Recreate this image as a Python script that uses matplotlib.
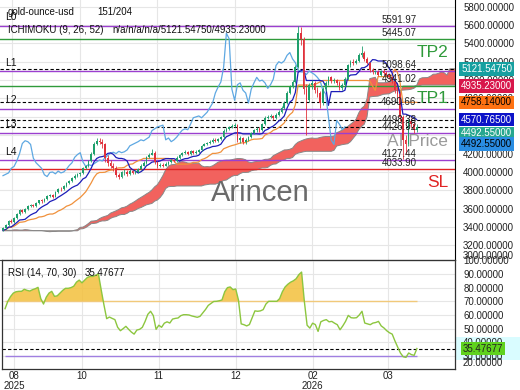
import numpy as np
import pandas as pd
import matplotlib
matplotlib.use('Agg')
import matplotlib.pyplot as plt
from matplotlib.patches import Rectangle

plt.rcParams['font.family'] = ['Liberation Sans', 'DejaVu Sans']
plt.rcParams['font.size'] = 7

# ---------------- data ----------------
title_symbol = "gold-ounce-usd"
title_count = "151/204"
ichimoku_title = "ICHIMOKU (9, 26, 52)"
ichimoku_values = "n/a/n/a/n/a/5121.54750/4935.23000"
rsi_title = "RSI (14, 70, 30)"
rsi_last_text = "35.47677"
rsi_last = 35.47677

pre_close = [3380, 3300, 3320, 3350, 3380, 3400, 3420, 3440, 3410, 3380,
             3350, 3340, 3320, 3300, 3280, 3290, 3310, 3330, 3350, 3370,
             3390, 3410, 3400, 3380, 3360, 3340, 3330, 3350, 3370, 3390,
             3410, 3430, 3420, 3400, 3380, 3360, 3340, 3320, 3310, 3330,
             3350, 3340, 3330, 3320, 3340, 3360, 3350, 3330, 3320, 3340,
             3350, 3360, 3370]

close = [3390, 3420, 3470, 3455, 3500, 3540, 3585, 3560, 3600, 3625,
         3640, 3630, 3660, 3690, 3680, 3710, 3740, 3750, 3730, 3780,
         3820, 3810, 3850, 3880, 3900, 3935, 3960, 3975, 3990, 4040,
         4060, 4120, 4200, 4310, 4340, 4330, 4300, 4150, 4100, 4070,
         4040, 3970, 3950, 3995, 4000, 3980, 4010, 3990, 4000, 4030,
         4070, 4100, 4160, 4190, 4210, 4110, 4060, 4080, 4070, 4090,
         4110, 4130, 4120, 4155, 4180, 4205, 4215, 4200, 4225, 4210,
         4220, 4240, 4285, 4300, 4315, 4330, 4350, 4340, 4360, 4380,
         4450, 4470, 4490, 4500, 4510, 4350, 4370, 4330, 4350, 4380,
         4420, 4455, 4470, 4460, 4520, 4590, 4600, 4610, 4590, 4620,
         4650, 4700, 4750, 4860, 4925, 4980, 5140, 5510, 5450, 4900,
         4780, 4950, 4970, 4890, 4860, 4750, 4900, 4970, 5030, 4990,
         5000, 4970, 4910, 4950, 5010, 5160, 5200, 5185, 5210, 5270,
         5300, 5230, 5190, 5110, 5090, 5090, 5060, 5100, 5080, 5060,
         5030, 4990, 4890, 4850, 4600, 4350, 4300, 4560, 4520, 4460,
         4492.55]

high = [3405, 3430, 3480, 3485, 3510, 3550, 3595, 3600, 3610, 3640,
        3655, 3650, 3670, 3700, 3705, 3720, 3750, 3765, 3760, 3790,
        3830, 3835, 3860, 3895, 3915, 3945, 3975, 3990, 4005, 4055,
        4080, 4135, 4215, 4330, 4370, 4375, 4360, 4320, 4180, 4130,
        4100, 4060, 3990, 4010, 4030, 4020, 4030, 4025, 4020, 4045,
        4085, 4115, 4175, 4210, 4250, 4225, 4125, 4095, 4095, 4105,
        4125, 4145, 4145, 4170, 4195, 4220, 4235, 4230, 4240, 4240,
        4235, 4255, 4295, 4315, 4330, 4345, 4365, 4365, 4375, 4395,
        4465, 4490, 4505, 4520, 4530, 4525, 4390, 4385, 4365, 4395,
        4435, 4470, 4490, 4485, 4535, 4605, 4620, 4630, 4625, 4640,
        4670, 4715, 4770, 4880, 4950, 5000, 5160, 5591.97, 5580, 5470,
        4960, 4970, 5000, 4985, 4920, 4880, 4920, 4990, 5050, 5045,
        5020, 5015, 4985, 4970, 5030, 5180, 5220, 5225, 5230, 5290,
        5376, 5320, 5250, 5200, 5130, 5110, 5105, 5115, 5120, 5095,
        5075, 5045, 5001.5, 4920, 4870, 4620, 4400, 4580, 4590, 4540,
        4520]

low = [3360, 3380, 3410, 3440, 3450, 3490, 3530, 3550, 3550, 3590,
       3615, 3615, 3620, 3650, 3665, 3670, 3700, 3730, 3715, 3725,
       3770, 3795, 3800, 3840, 3870, 3890, 3925, 3950, 3960, 3980,
       4030, 4050, 4110, 4190, 4290, 4300, 4260, 4110, 4060, 4040,
       4010, 3940, 3920, 3935, 3970, 3960, 3965, 3975, 3975, 3990,
       4020, 4060, 4090, 4150, 4180, 4090, 4040, 4050, 4055, 4060,
       4080, 4100, 4105, 4110, 4145, 4170, 4195, 4185, 4190, 4195,
       4200, 4210, 4230, 4278.49, 4290, 4305, 4320, 4325, 4330, 4350,
       4370, 4440, 4460, 4480, 4490, 4330, 4320, 4300, 4310, 4340,
       4370, 4410, 4440, 4440, 4450, 4510, 4575, 4585, 4570, 4580,
       4610, 4640, 4690, 4740, 4850, 4910, 4970, 5130, 5380, 4850,
       4400, 4760, 4900, 4860, 4820, 4700, 4730, 4880, 4950, 4970,
       4965, 4950, 4890, 4895, 4930, 5000, 5140, 5160, 5170, 5195,
       5250, 5210, 5170, 5090, 5070, 5065, 5040, 5045, 5060, 5040,
       5010, 4970, 4860, 4800, 4560, 4140, 4200, 4280, 4490, 4420,
       4440]

rsi = [64.6, 70, 73.5, 76, 77, 77.3, 77.3, 78.8, 78, 77.5,
       78.5, 79.2, 80.2, 72, 68, 73, 76, 77.3, 73.6, 74,
       76, 78, 79.5, 79.5, 80, 81, 84, 85.5, 83.5, 85.5,
       87.5, 88.2, 88.2, 89, 90, 78.5, 67.5, 57.3, 58.5, 57.5,
       56.6, 51, 48.5, 50, 51.7, 49.5, 47.5, 46, 49, 49.5,
       51, 55.3, 60.5, 62.7, 59.5, 49.5, 52.5, 51, 54, 55,
       54.1, 57, 57.5, 57.8, 59.5, 60.2, 60.2, 60, 59.3, 58.8,
       58.3, 59, 61.5, 64, 67, 68.5, 69.9, 70, 70.4, 71,
       77, 80, 80.5, 78.5, 79, 71, 53.5, 52.9, 52, 53,
       58, 63, 62.7, 63, 63.9, 68, 70, 70, 70, 70,
       72, 77, 80.5, 82.5, 84, 85, 86.5, 89.5, 91.4, 70,
       52.5, 50.4, 54, 53, 48, 55, 56, 56.6, 55, 55.3,
       54, 52.9, 49.2, 52, 55.3, 59.7, 58, 57.8, 58, 60,
       62.7, 54.1, 53.5, 52.9, 54.1, 54.5, 55.3, 52, 50.5, 48.5,
       47, 46, 41, 36.5, 32.2, 29.5, 29, 32.2, 31, 30.5,
       35.47677]

month_ticks = [3.3, 27.9, 55.9, 84.1, 112.1, 139.6]
month_labels = ['08\n2025', '10', '11', '12', '02\n2026', '03']

level_names = ['L0', 'TP2', 'L1', 'TP1', 'L2', 'L3', 'L4', 'SL']
level_values = [5591.97, 5445.07, 5098.64, 4941.02, 4690.66, 4426.92, 4127.44, 4033.90]
ai_price = 4498.38
current_values = [5121.5475, 4758.14, 4570.765, 4492.55]

box_values = [5121.5475, 4935.23, 4758.14, 4570.765, 4492.55, 4492.55]
box_colors = ['#16a0a0', '#d8174b', '#ff7212', '#0c12c8', '#27a78f', '#2a8de2']
box_text_colors = ['white', 'white', 'black', 'white', 'white', 'black']
box_shift = [0, 0, 0, 0, -4.7, -12.6]

# ---------------- ichimoku ----------------
P = len(pre_close)
full_h = pd.Series(list(pre_close) + list(high), dtype=float)
full_l = pd.Series(list(pre_close) + list(low), dtype=float)
def mid(n):
    return (full_h.rolling(n, min_periods=1).max() + full_l.rolling(n, min_periods=1).min()) / 2
tenkan = mid(9).values
kijun = mid(26).values
spanA = (tenkan + kijun) / 2
spanB = mid(52).values

N = len(close)
x = np.arange(N)
c = np.array(close, float)
h = np.array(high, float)
l = np.array(low, float)
o = np.r_[pre_close[-1], c[:-1]]

# ---------------- figure ----------------
W, H = 520, 390
fig = plt.figure(figsize=(W / 100, H / 100), dpi=100)
fig.add_artist(Rectangle((455 / W, 1 - 360 / H), 65 / W, 23 / H, transform=fig.transFigure,
                         color='#d9fcff', lw=0, zorder=-1))
ax = fig.add_axes([0, 1 - 260 / H, 455 / W, 260 / H])
ax2 = fig.add_axes([0.004, 1 - 369 / H, 453 / W, 109 / H])
ax.patch.set_alpha(0)
ax2.patch.set_alpha(0)

xlim = (-1.09, 163.9)
for a in (ax, ax2):
    a.set_xlim(*xlim)
    a.set_xticks(month_ticks)
    a.grid(True, color='#e6e6e6', lw=0.8)
    a.set_axisbelow(True)
    a.yaxis.tick_right()
    a.tick_params(axis='y', length=0, pad=5.8, labelsize=7, colors='#222222')
    a.tick_params(axis='x', length=0, pad=1.5, labelsize=7, colors='#222222')
    a.yaxis.set_major_formatter('{x:.5f}')

ax.set_ylim(3042, 5872)
ax.set_yticks(np.arange(3200, 5801, 200))
ax.set_xticklabels([])
for s in ['top', 'left']:
    ax.spines[s].set_visible(False)
ax.spines['right'].set_color('black')
ax.spines['bottom'].set_color('#444444')

# cloud
xs = np.arange(0, N + 26)
A = spanA[P - 26:P + N]
B = spanB[P - 26:P + N]
ax.fill_between(xs, A, B, where=A >= B, interpolate=True, color='#f2625e', lw=0, zorder=1)
ax.fill_between(xs, A, B, where=A < B, interpolate=True, color='#b8735f', lw=0, zorder=1)
ax.plot(xs, A, color='#888888', lw=0.7, zorder=1.2)
ax.plot(xs, B, color='#888888', lw=0.7, zorder=1.2)

# level lines
for name, v in zip(level_names, level_values):
    col = '#9b3fcf' if name.startswith('L') else ('#2f9a3a' if name.startswith('TP') else '#e02424')
    ax.axhline(v, color=col, lw=1.0, zorder=2)
    ax.annotate(f"{v:.2f}", xy=(150, v), xytext=(0, 0.8), textcoords='offset points',
                ha='right', va='bottom', fontsize=7, color='#222222', zorder=6)
    if name.startswith('L'):
        ax.annotate(name, xy=(0.011, v), xycoords=('axes fraction', 'data'), xytext=(0, 2.5),
                    textcoords='offset points', ha='left', va='bottom', fontsize=7.5, color='#111111')
    else:
        ax.annotate(name, xy=(0.985, v), xycoords=('axes fraction', 'data'), xytext=(0, -4.2),
                    textcoords='offset points', ha='right', va='top', fontsize=12.5, color=col, zorder=6)
ax.annotate(f"{ai_price:.2f}", xy=(150, ai_price), xytext=(0, 0.8), textcoords='offset points',
            ha='right', va='bottom', fontsize=7, color='#222222', zorder=6)
ax.annotate('AI Price', xy=(0.985, ai_price), xycoords=('axes fraction', 'data'), xytext=(0, -5.5),
            textcoords='offset points', ha='right', va='top', fontsize=12.5, color='#9a9a9a', zorder=6)

for v in current_values:
    ax.axhline(v, color='black', lw=0.8, ls=(0, (3, 2)), zorder=2.5)

# indicator lines
ax.plot(x[:N - 26], c[26:], color='#5ea8e2', lw=0.9, zorder=3)
ax.plot(x, kijun[P:], color='#f0913c', lw=0.9, zorder=3.2)
ax.plot(x, tenkan[P:], color='#1c1cb8', lw=0.9, zorder=3.3)

# candles
up = c >= o
cols = np.where(up, '#1f9f6c', '#e0323c')
ax.vlines(x, l, h, colors=cols, lw=0.6, zorder=4)
body = np.maximum(np.abs(c - o), 4)
ax.bar(x, body, bottom=np.minimum(o, c), width=0.62, color=cols, lw=0, zorder=4.1)

# right boxes
for v, bc, tc, sh in zip(box_values, box_colors, box_text_colors, box_shift):
    ax.annotate(f"{v:.5f}", xy=(1.0, v), xycoords=('axes fraction', 'data'), xytext=(4.4, sh),
                textcoords='offset points', ha='left', va='center', fontsize=7, color=tc,
                bbox=dict(boxstyle='square,pad=0.18', fc=bc, ec='none'), annotation_clip=False, zorder=10)

# titles / watermark
fig.text(8 / W, 1 - 12 / H, title_symbol, fontsize=7, va='center', color='#111111')
fig.text(97 / W, 1 - 12 / H, title_count, fontsize=7, va='center', color='#111111')
fig.text(8 / W, 1 - 30 / H, ichimoku_title, fontsize=7, va='center', color='#111111')
fig.text(112 / W, 1 - 30 / H, ichimoku_values, fontsize=7, va='center', color='#111111')
fig.text(260 / W, 1 - 193 / H, 'Arincen', fontsize=21, color='#6a6a6a', ha='center', va='center')
fig.text(463 / W, 1 - 256 / H, '3000.00000', fontsize=7, va='center', color='#222222')

# ---------------- RSI ----------------
r = np.array(rsi, float)
ax2.set_ylim(20.5, 100.2)
ax2.set_yticks(np.arange(30, 101, 10))
ax2.set_xticklabels(month_labels, linespacing=0.95)
for s in ax2.spines.values():
    s.set_color('#333333')
    s.set_linewidth(0.9)
ax2.fill_between(x, r, 70, where=r >= 70, interpolate=True, color='#f3c03c', alpha=0.85, lw=0, zorder=1)
ax2.fill_between(x, r, 30, where=r <= 30, interpolate=True, color='#9ad8ff', alpha=0.6, lw=0, zorder=1)
ax2.hlines(70, 0, N - 1, color='#f1c97a', lw=1.0, zorder=2)
ax2.hlines(30, 0, N - 1, color='#a07fe0', lw=1.0, zorder=2)
ax2.axhline(rsi_last, color='black', lw=0.8, ls=(0, (3, 2)), zorder=2.5)
ax2.plot(x, r, color='#8cc63f', lw=1.0, zorder=3)
ax2.annotate(rsi_last_text, xy=(1.0, rsi_last), xycoords=('axes fraction', 'data'), xytext=(5.5, 0),
             textcoords='offset points', ha='left', va='center', fontsize=7, color='#222222',
             bbox=dict(boxstyle='square,pad=0.18', fc='#5fd21e', ec='none'), annotation_clip=False, zorder=10)
fig.text(463 / W, 1 - 363 / H, '20.00000', fontsize=7, va='center', color='#222222')
fig.text(8 / W, 1 - 273 / H, rsi_title, fontsize=7, va='center', color='#111111')
fig.text(85 / W, 1 - 273 / H, rsi_last_text, fontsize=7, va='center', color='#111111')

fig.savefig('out.png', dpi=100)
